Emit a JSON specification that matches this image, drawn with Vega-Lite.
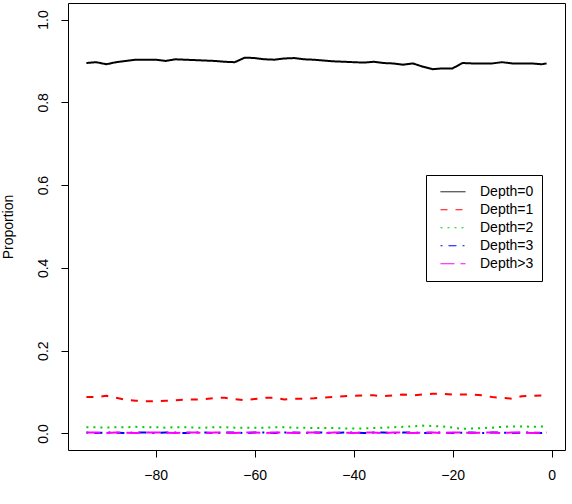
{
  "$schema": "https://vega.github.io/schema/vega-lite/v6.json",
  "width": 497,
  "height": 447,
  "autosize": {"type": "none"},
  "padding": {"left": 68, "top": 3, "right": 7, "bottom": 54},
  "background": "white",
  "config": {
    "view": {"stroke": "black", "strokeWidth": 1},
    "font": "Liberation Sans"
  },
  "data": {
    "values": [
      {"x": -94, "Depth=0": 0.895, "Depth=1": 0.088, "Depth=2": 0.015, "Depth=3": 0.002, "Depth>3": 0.002},
      {"x": -92, "Depth=0": 0.897, "Depth=1": 0.088, "Depth=2": 0.015, "Depth=3": 0.001, "Depth>3": 0.002},
      {"x": -90, "Depth=0": 0.892, "Depth=1": 0.091, "Depth=2": 0.014, "Depth=3": 0.002, "Depth>3": 0.001},
      {"x": -88, "Depth=0": 0.897, "Depth=1": 0.086, "Depth=2": 0.015, "Depth=3": 0.002, "Depth>3": 0.002},
      {"x": -86, "Depth=0": 0.900, "Depth=1": 0.081, "Depth=2": 0.015, "Depth=3": 0.001, "Depth>3": 0.002},
      {"x": -84, "Depth=0": 0.903, "Depth=1": 0.079, "Depth=2": 0.016, "Depth=3": 0.002, "Depth>3": 0.001},
      {"x": -82, "Depth=0": 0.903, "Depth=1": 0.078, "Depth=2": 0.015, "Depth=3": 0.002, "Depth>3": 0.002},
      {"x": -80, "Depth=0": 0.903, "Depth=1": 0.078, "Depth=2": 0.015, "Depth=3": 0.001, "Depth>3": 0.002},
      {"x": -78, "Depth=0": 0.900, "Depth=1": 0.079, "Depth=2": 0.014, "Depth=3": 0.002, "Depth>3": 0.002},
      {"x": -76, "Depth=0": 0.904, "Depth=1": 0.080, "Depth=2": 0.015, "Depth=3": 0.002, "Depth>3": 0.001},
      {"x": -74, "Depth=0": 0.903, "Depth=1": 0.082, "Depth=2": 0.015, "Depth=3": 0.001, "Depth>3": 0.002},
      {"x": -72, "Depth=0": 0.902, "Depth=1": 0.082, "Depth=2": 0.014, "Depth=3": 0.002, "Depth>3": 0.002},
      {"x": -70, "Depth=0": 0.901, "Depth=1": 0.083, "Depth=2": 0.014, "Depth=3": 0.002, "Depth>3": 0.001},
      {"x": -68, "Depth=0": 0.900, "Depth=1": 0.086, "Depth=2": 0.015, "Depth=3": 0.001, "Depth>3": 0.002},
      {"x": -66, "Depth=0": 0.898, "Depth=1": 0.086, "Depth=2": 0.015, "Depth=3": 0.002, "Depth>3": 0.002},
      {"x": -64, "Depth=0": 0.897, "Depth=1": 0.083, "Depth=2": 0.014, "Depth=3": 0.002, "Depth>3": 0.001},
      {"x": -62, "Depth=0": 0.908, "Depth=1": 0.080, "Depth=2": 0.014, "Depth=3": 0.001, "Depth>3": 0.002},
      {"x": -60, "Depth=0": 0.907, "Depth=1": 0.083, "Depth=2": 0.014, "Depth=3": 0.002, "Depth>3": 0.002},
      {"x": -58, "Depth=0": 0.904, "Depth=1": 0.086, "Depth=2": 0.014, "Depth=3": 0.002, "Depth>3": 0.001},
      {"x": -56, "Depth=0": 0.903, "Depth=1": 0.086, "Depth=2": 0.015, "Depth=3": 0.001, "Depth>3": 0.002},
      {"x": -54, "Depth=0": 0.906, "Depth=1": 0.082, "Depth=2": 0.015, "Depth=3": 0.002, "Depth>3": 0.002},
      {"x": -52, "Depth=0": 0.907, "Depth=1": 0.084, "Depth=2": 0.014, "Depth=3": 0.002, "Depth>3": 0.001},
      {"x": -50, "Depth=0": 0.904, "Depth=1": 0.084, "Depth=2": 0.014, "Depth=3": 0.001, "Depth>3": 0.002},
      {"x": -48, "Depth=0": 0.903, "Depth=1": 0.085, "Depth=2": 0.013, "Depth=3": 0.002, "Depth>3": 0.002},
      {"x": -46, "Depth=0": 0.901, "Depth=1": 0.087, "Depth=2": 0.013, "Depth=3": 0.002, "Depth>3": 0.001},
      {"x": -44, "Depth=0": 0.899, "Depth=1": 0.088, "Depth=2": 0.013, "Depth=3": 0.001, "Depth>3": 0.002},
      {"x": -42, "Depth=0": 0.898, "Depth=1": 0.090, "Depth=2": 0.012, "Depth=3": 0.002, "Depth>3": 0.002},
      {"x": -40, "Depth=0": 0.897, "Depth=1": 0.091, "Depth=2": 0.012, "Depth=3": 0.002, "Depth>3": 0.001},
      {"x": -38, "Depth=0": 0.896, "Depth=1": 0.092, "Depth=2": 0.012, "Depth=3": 0.001, "Depth>3": 0.002},
      {"x": -36, "Depth=0": 0.898, "Depth=1": 0.092, "Depth=2": 0.013, "Depth=3": 0.002, "Depth>3": 0.002},
      {"x": -34, "Depth=0": 0.895, "Depth=1": 0.090, "Depth=2": 0.014, "Depth=3": 0.002, "Depth>3": 0.001},
      {"x": -32, "Depth=0": 0.894, "Depth=1": 0.092, "Depth=2": 0.015, "Depth=3": 0.001, "Depth>3": 0.002},
      {"x": -30, "Depth=0": 0.891, "Depth=1": 0.094, "Depth=2": 0.016, "Depth=3": 0.002, "Depth>3": 0.002},
      {"x": -28, "Depth=0": 0.894, "Depth=1": 0.092, "Depth=2": 0.017, "Depth=3": 0.002, "Depth>3": 0.001},
      {"x": -26, "Depth=0": 0.886, "Depth=1": 0.094, "Depth=2": 0.019, "Depth=3": 0.001, "Depth>3": 0.002},
      {"x": -24, "Depth=0": 0.880, "Depth=1": 0.096, "Depth=2": 0.018, "Depth=3": 0.002, "Depth>3": 0.002},
      {"x": -22, "Depth=0": 0.882, "Depth=1": 0.096, "Depth=2": 0.017, "Depth=3": 0.002, "Depth>3": 0.001},
      {"x": -20, "Depth=0": 0.882, "Depth=1": 0.094, "Depth=2": 0.014, "Depth=3": 0.001, "Depth>3": 0.002},
      {"x": -18, "Depth=0": 0.895, "Depth=1": 0.094, "Depth=2": 0.011, "Depth=3": 0.002, "Depth>3": 0.002},
      {"x": -16, "Depth=0": 0.894, "Depth=1": 0.094, "Depth=2": 0.012, "Depth=3": 0.002, "Depth>3": 0.001},
      {"x": -14, "Depth=0": 0.894, "Depth=1": 0.092, "Depth=2": 0.013, "Depth=3": 0.001, "Depth>3": 0.002},
      {"x": -12, "Depth=0": 0.894, "Depth=1": 0.088, "Depth=2": 0.014, "Depth=3": 0.002, "Depth>3": 0.002},
      {"x": -10, "Depth=0": 0.897, "Depth=1": 0.086, "Depth=2": 0.016, "Depth=3": 0.002, "Depth>3": 0.001},
      {"x": -8, "Depth=0": 0.894, "Depth=1": 0.084, "Depth=2": 0.017, "Depth=3": 0.001, "Depth>3": 0.002},
      {"x": -6, "Depth=0": 0.894, "Depth=1": 0.090, "Depth=2": 0.017, "Depth=3": 0.002, "Depth>3": 0.002},
      {"x": -4, "Depth=0": 0.894, "Depth=1": 0.091, "Depth=2": 0.016, "Depth=3": 0.002, "Depth>3": 0.001},
      {"x": -2, "Depth=0": 0.892, "Depth=1": 0.092, "Depth=2": 0.017, "Depth=3": 0.001, "Depth>3": 0.002},
      {"x": -1, "Depth=0": 0.894, "Depth=1": 0.092, "Depth=2": 0.017, "Depth=3": 0.002, "Depth>3": 0.002}
    ]
  },
  "transform": [
    {"fold": ["Depth=0", "Depth=1", "Depth=2", "Depth=3", "Depth>3"], "as": ["depth", "proportion"]}
  ],
  "mark": {"type": "line", "strokeWidth": 2, "strokeCap": "butt", "strokeJoin": "round"},
  "encoding": {
    "x": {
      "field": "x",
      "type": "quantitative",
      "scale": {"domain": [-97.72, 2.72], "nice": false, "zero": false},
      "axis": {
        "title": null,
        "values": [-80, -60, -40, -20, 0],
        "labelExpr": "replace(datum.label, '-', '\u2212')",
        "domain": false,
        "grid": false,
        "tickSize": 7,
        "tickColor": "black",
        "labelColor": "black",
        "labelFont": "Liberation Sans",
        "labelFontSize": 14,
        "labelPadding": 11
      }
    },
    "y": {
      "field": "proportion",
      "type": "quantitative",
      "scale": {"domain": [-0.04, 1.04], "nice": false, "zero": false},
      "axis": {
        "title": "Proportion",
        "values": [0, 0.2, 0.4, 0.6, 0.8, 1.0],
        "format": ".1f",
        "domain": false,
        "grid": false,
        "tickSize": 7,
        "tickColor": "black",
        "labelColor": "black",
        "labelFont": "Liberation Sans",
        "labelFontSize": 14,
        "labelAngle": 270,
        "labelAlign": "center",
        "labelBaseline": "alphabetic",
        "labelPadding": 14,
        "titleFont": "Liberation Sans",
        "titleFontSize": 14,
        "titleFontWeight": "normal",
        "titleColor": "black",
        "titleAngle": 270,
        "titleAlign": "center",
        "titleBaseline": "middle",
        "titleX": -60,
        "titleY": 223.5
      }
    },
    "color": {
      "field": "depth",
      "type": "nominal",
      "scale": {
        "domain": ["Depth=0", "Depth=1", "Depth=2", "Depth=3", "Depth>3"],
        "range": ["#000000", "#FF0000", "#00CD00", "#0000FF", "#FF00FF"]
      },
      "legend": {
        "title": null,
        "orient": "none",
        "legendX": 358,
        "legendY": 172,
        "strokeColor": "black",
        "fillColor": "white",
        "padding": 8,
        "symbolType": "stroke",
        "symbolSize": 625,
        "symbolStrokeWidth": 1,
        "symbolOffset": 6,
        "labelOffset": 14,
        "labelFont": "Liberation Sans",
        "labelFontSize": 14,
        "labelColor": "black",
        "clipHeight": 17.5,
        "rowPadding": 0
      }
    },
    "strokeDash": {
      "field": "depth",
      "type": "nominal",
      "scale": {
        "domain": ["Depth=0", "Depth=1", "Depth=2", "Depth=3", "Depth>3"],
        "range": [[1, 0], [7, 8], [2, 5], [2, 6, 8, 6], [14, 6]]
      },
      "legend": null
    }
  }
}
